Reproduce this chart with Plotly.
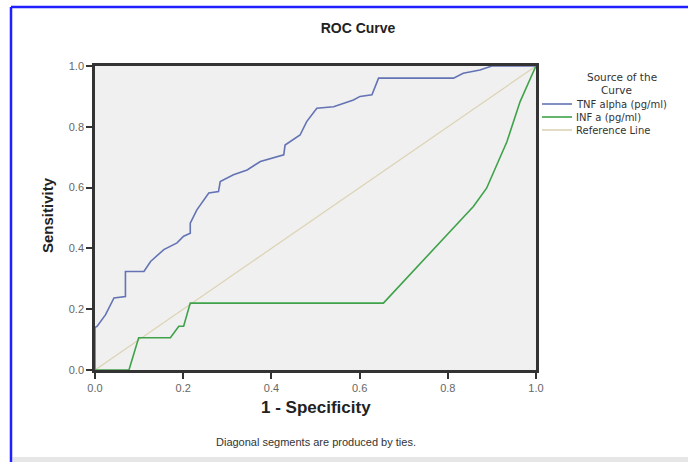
import plotly.graph_objects as go

# ---- data ----
tnf_fpr = [0, 0, 0.005, 0.024, 0.043, 0.069, 0.069, 0.111, 0.126, 0.156, 0.186, 0.201,
           0.216, 0.216, 0.231, 0.258, 0.28, 0.284, 0.314, 0.345, 0.375, 0.428, 0.431,
           0.465, 0.48, 0.503, 0.541, 0.586, 0.601, 0.628, 0.643, 0.813, 0.835, 0.873,
           0.9, 1.0]
tnf_tpr = [0, 0.14, 0.144, 0.182, 0.237, 0.242, 0.324, 0.324, 0.357, 0.396, 0.418, 0.44,
           0.45, 0.483, 0.527, 0.582, 0.587, 0.62, 0.642, 0.658, 0.686, 0.708, 0.74,
           0.773, 0.817, 0.861, 0.866, 0.888, 0.9, 0.905, 0.96, 0.96, 0.976, 0.987,
           1.0, 1.0]

inf_fpr = [0, 0.077, 0.099, 0.171, 0.19, 0.201, 0.216, 0.654, 0.858, 0.888, 0.934,
           0.964, 0.994, 1.0]
inf_tpr = [0, 0, 0.106, 0.106, 0.144, 0.144, 0.22, 0.22, 0.538, 0.598, 0.751, 0.883,
           0.981, 1.0]

ref_x = [0, 1]
ref_y = [0, 1]

series_names = ["TNF alpha (pg/ml)", "INF a (pg/ml)", "Reference Line"]
series_colors = ["#6373b4", "#3fa24a", "#ddd3b6"]
tick_vals = [0, 0.2, 0.4, 0.6, 0.8, 1.0]
tick_text = ["0.0", "0.2", "0.4", "0.6", "0.8", "1.0"]

# ---- layout geometry ----
W, H = 688, 462
ML, MR, MT, MB = 95, 152, 66, 92
PW, PH = W - ML - MR, H - MT - MB


def px(x):
    return (x - ML) / PW


def py(y):
    return (H - MB - y) / PH


FONT = "Liberation Sans, Arial, sans-serif"
LEGFONT = "DejaVu Sans, Verdana, sans-serif"

fig = go.Figure()
fig.add_trace(go.Scatter(x=ref_x, y=ref_y, mode="lines", name=series_names[2],
                         line=dict(color=series_colors[2], width=1.3)))
fig.add_trace(go.Scatter(x=tnf_fpr, y=tnf_tpr, mode="lines", name=series_names[0],
                         line=dict(color=series_colors[0], width=1.6)))
fig.add_trace(go.Scatter(x=inf_fpr, y=inf_tpr, mode="lines", name=series_names[1],
                         line=dict(color=series_colors[1], width=1.6)))

shapes = []
# blue frame
shapes.append(dict(type="line", xref="paper", yref="paper", x0=px(11), x1=px(700),
                   y0=py(7), y1=py(7), line=dict(color="#1f1fff", width=2.5)))
shapes.append(dict(type="line", xref="paper", yref="paper", x0=px(11), x1=px(11),
                   y0=py(7), y1=py(470), line=dict(color="#1f1fff", width=2.5)))
# bottom grey band
shapes.append(dict(type="rect", xref="paper", yref="paper", x0=px(12.5), x1=px(700),
                   y0=py(457), y1=py(470), line=dict(width=0), fillcolor="#e6e6e6",
                   layer="below"))

annotations = []
# legend (manual, compact like the reference)
annotations.append(dict(text="Source of the", xref="paper", yref="paper", x=px(622),
                        y=py(77), showarrow=False, xanchor="center", yanchor="middle",
                        font=dict(family=LEGFONT, size=10.5, color="#333")))
annotations.append(dict(text="Curve", xref="paper", yref="paper", x=px(616),
                        y=py(90), showarrow=False, xanchor="center", yanchor="middle",
                        font=dict(family=LEGFONT, size=10.5, color="#333")))
leg_y = [104, 117, 130]
for name, col, yy in zip(series_names, series_colors, leg_y):
    shapes.append(dict(type="line", xref="paper", yref="paper", x0=px(542), x1=px(572),
                       y0=py(yy), y1=py(yy), line=dict(color=col, width=1.6)))
    annotations.append(dict(text=name, xref="paper", yref="paper", x=px(574), y=py(yy),
                            showarrow=False, xanchor="left", yanchor="middle",
                            font=dict(family=LEGFONT, size=10, color="#333")))

# axis titles & footnote
annotations.append(dict(text="<b>1 - Specificity</b>", xref="paper", yref="paper",
                        x=px(316), y=py(407), showarrow=False, xanchor="center",
                        yanchor="middle", font=dict(family=FONT, size=17, color="#222")))
annotations.append(dict(text="<b>Sensitivity</b>", xref="paper", yref="paper",
                        x=px(47), y=py(215), showarrow=False, xanchor="center",
                        yanchor="middle", textangle=-90,
                        font=dict(family=FONT, size=15, color="#222")))
annotations.append(dict(text="Diagonal segments are produced by ties.", xref="paper",
                        yref="paper", x=px(316), y=py(442), showarrow=False,
                        xanchor="center", yanchor="middle",
                        font=dict(family=FONT, size=11, color="#333")))

axis_common = dict(range=[0, 1], tickvals=tick_vals, ticktext=tick_text,
                   showgrid=False, zeroline=False, showline=True, linecolor="#333",
                   linewidth=2.5, mirror=True, ticks="outside", ticklen=6,
                   tickwidth=1.5, tickcolor="#333",
                   tickfont=dict(family=FONT, size=11, color="#666"), fixedrange=True)

fig.update_layout(
    width=W, height=H, autosize=False,
    margin=dict(l=ML, r=MR, t=MT, b=MB),
    paper_bgcolor="white", plot_bgcolor="#f0f0f0",
    showlegend=False,
    title=dict(text="<b>ROC Curve</b>", x=358 / W, xanchor="center",
               y=1 - 28 / H, yanchor="middle", xref="container", yref="container",
               font=dict(family=FONT, size=14, color="#222")),
    xaxis=dict(**axis_common),
    yaxis=dict(**axis_common),
    shapes=shapes,
    annotations=annotations,
)

fig.write_html("out.html")
